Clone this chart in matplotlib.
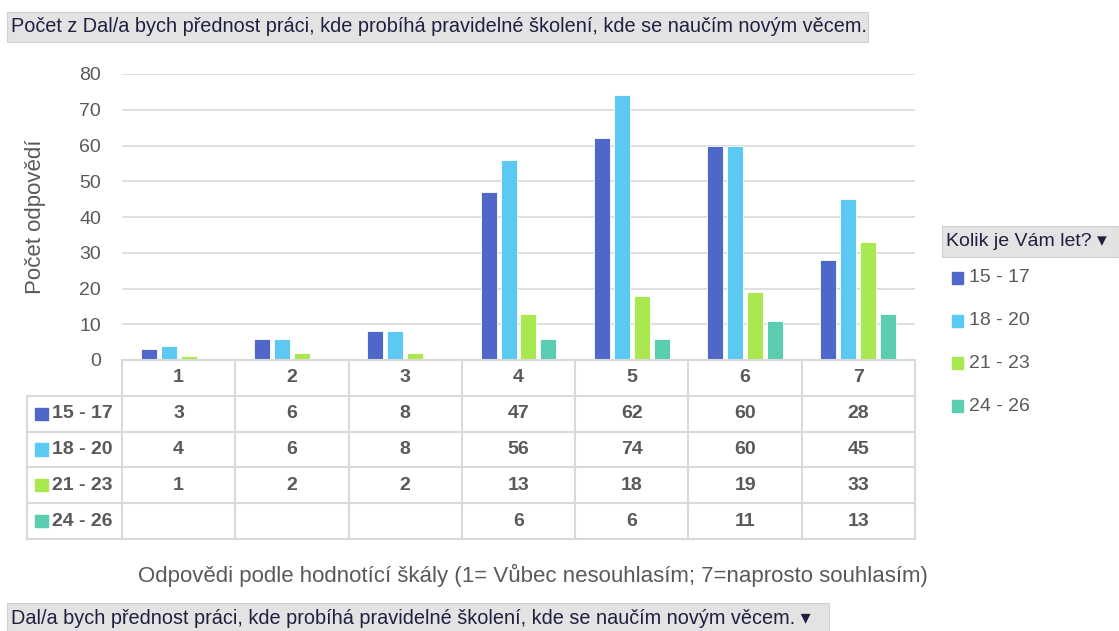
import matplotlib.pyplot as plt
import numpy as np
from matplotlib.patches import Rectangle

plt.rcParams['font.family'] = ['Liberation Sans', 'DejaVu Sans']

# data
kategorie = ['1', '2', '3', '4', '5', '6', '7']
skupiny = ['15 - 17', '18 - 20', '21 - 23', '24 - 26']
v_15_17 = [3, 6, 8, 47, 62, 60, 28]
v_18_20 = [4, 6, 8, 56, 74, 60, 45]
v_21_23 = [1, 2, 2, 13, 18, 19, 33]
v_24_26 = [None, None, None, 6, 6, 11, 13]
barvy = ['#4F67C8', '#5BC9F1', '#A9E94F', '#5BCDB1']

nadpis = 'Počet z Dal/a bych přednost práci, kde probíhá pravidelné školení, kde se naučím novým věcem.'
filtr = 'Dal/a bych přednost práci, kde probíhá pravidelné školení, kde se naučím novým věcem. \u25BE'
osa_y = 'Počet odpovědí'
osa_x = 'Odpovědi podle hodnotící škály (1= Vůbec nesouhlasím; 7=naprosto souhlasím)'
legenda_nadpis = 'Kolik je Vám let? \u25BE'

W, H = 1119, 631
SEDA = '#595959'
MRIZKA = '#D9D9D9'


def px(x0, y0, x1, y1):
    # pixely (od leveho horniho rohu) -> [left, bottom, width, height]
    return [x0 / W, 1 - y1 / H, (x1 - x0) / W, (y1 - y0) / H]


fig = plt.figure(figsize=(W / 100, H / 100), dpi=100)

# --- graf ---
ax = fig.add_axes(px(122, 74, 915, 360))
serie = [v_15_17, v_18_20, v_21_23, v_24_26]
x = np.arange(len(kategorie))
krok = 20 / 113.3
sirka = 16 / 113.3
for i, (hodnoty, barva) in enumerate(zip(serie, barvy)):
    h = np.array([np.nan if v is None else v for v in hodnoty], dtype=float)
    ax.bar(x + (i - 1.5) * krok, h, width=sirka, color=barva,
           edgecolor='white', linewidth=0.6, zorder=3)
ax.set_xlim(-0.5, len(kategorie) - 0.5)
ax.set_ylim(0, 80)
ax.set_yticks(range(0, 81, 10))
ax.yaxis.grid(True, color=MRIZKA, linewidth=1.2, zorder=0)
ax.set_xticks([])
ax.tick_params(axis='y', length=0, pad=15, labelsize=14, labelcolor=SEDA)
for s in ax.spines.values():
    s.set_visible(False)
ax.set_ylabel(osa_y, fontsize=16, color=SEDA)
ax.yaxis.set_label_coords(-0.096, 0.5)

# --- datova tabulka ---
levy = -0.5 - (122 - 27) / 113.3
tab = fig.add_axes(px(27, 360, 915, 539))
tab.set_xlim(levy, len(kategorie) - 0.5)
tab.set_ylim(5, 0)
tab.axis('off')
lc = '#D9D9D9'
lw = 1.5
# horni okraj hlavicky
tab.plot([-0.5, len(kategorie) - 0.5], [0, 0], color=lc, lw=lw, clip_on=False)
for r in range(1, 6):
    tab.plot([levy, len(kategorie) - 0.5], [r, r], color=lc, lw=lw, clip_on=False)
tab.plot([levy, levy], [1, 5], color=lc, lw=lw, clip_on=False)
for c in range(len(kategorie) + 1):
    tab.plot([c - 0.5, c - 0.5], [0, 5], color=lc, lw=lw, clip_on=False)

for j, k in enumerate(kategorie):
    tab.text(j, 0.5, k, ha='center', va='center', fontsize=14,
             fontweight='bold', color=SEDA)
for i, (hodnoty, nazev, barva) in enumerate(zip(serie, skupiny, barvy)):
    tab.add_patch(Rectangle((levy + 0.07, i + 1.5 - 0.17), 0.115, 0.34,
                            color=barva, clip_on=False))
    tab.text(levy + 0.22, i + 1.5, nazev, ha='left', va='center',
             fontsize=14, fontweight='bold', color=SEDA)
    for j, v in enumerate(hodnoty):
        if v is not None:
            tab.text(j, i + 1.5, str(v), ha='center', va='center',
                     fontsize=14, fontweight='bold', color=SEDA)

fig.text(533 / W, 1 - 575 / H, osa_x, ha='center', va='center',
         fontsize=16, color=SEDA)

# --- legenda ---
fig.patches.append(Rectangle((942 / W, 1 - 257 / H), 177 / W, 31 / H,
                             transform=fig.transFigure, facecolor='#E3E3E3',
                             edgecolor='#D0D0D0', lw=0.8))
fig.text(946 / W, 1 - 242 / H, legenda_nadpis, ha='left', va='center',
         fontsize=14, color='#1F2040')
for i, (nazev, barva) in enumerate(zip(skupiny, barvy)):
    yy = 278 + i * 42.7
    fig.patches.append(Rectangle((952 / W, 1 - (yy + 6) / H), 11 / W, 12 / H,
                                 transform=fig.transFigure, color=barva))
    fig.text(969 / W, 1 - yy / H, nazev, ha='left', va='center',
             fontsize=14, color=SEDA)

# --- nadpis a filtr ---
fig.patches.append(Rectangle((7 / W, 1 - 42 / H), 861 / W, 30 / H,
                             transform=fig.transFigure, facecolor='#E3E3E3',
                             edgecolor='#D0D0D0', lw=0.8))
fig.text(11 / W, 1 - 27 / H, nadpis, ha='left', va='center',
         fontsize=14.3, color='#1F2040')
fig.patches.append(Rectangle((7 / W, 1 - 640 / H), 822 / W, 37 / H,
                             transform=fig.transFigure, facecolor='#E3E3E3',
                             edgecolor='#D0D0D0', lw=0.8))
fig.text(11 / W, 1 - 619 / H, filtr, ha='left', va='center',
         fontsize=14.3, color='#1F2040')

fig.savefig('out.png', dpi=100)
